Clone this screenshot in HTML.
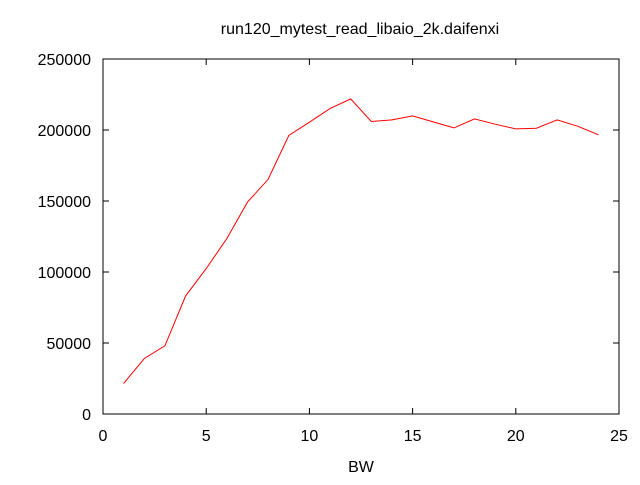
<!DOCTYPE html>
<html><head><meta charset="utf-8"><style>
body{margin:0;background:#fff;}
svg text{font-family:"Liberation Sans",sans-serif;font-size:16px;fill:#000;}
</style></head><body>
<svg id="chart" width="640" height="480" xmlns="http://www.w3.org/2000/svg">
<rect width="640" height="480" fill="#fff"/>
<text x="360" y="34" text-anchor="middle">run120_mytest_read_libaio_2k.daifenxi</text>
<text x="361" y="472" text-anchor="middle">BW</text>
<g id="axes"></g>
<rect x="103" y="59" width="516" height="355" fill="none" stroke="#000" stroke-width="1"/>
<path id="series" fill="none" stroke="#f00" stroke-width="1"/>
</svg>
<script>
const xValues = [1,2,3,4,5,6,7,8,9,10,11,12,13,14,15,16,17,18,19,20,21,22,23,24];
const yValues = [21500,39100,48000,83200,102400,123500,149200,165200,196100,205500,215100,221900,206000,207100,209900,205700,201500,207800,204100,200800,201300,207100,202700,196600];
const xTicks = [0,5,10,15,20,25];
const yTicks = [0,50000,100000,150000,200000,250000];
const X0=103,X1=619,Y0=414,Y1=59;
function sx(v){return X0+(v-0)/25*(X1-X0);}
function sy(v){return Y0-(v-0)/250000*(Y0-Y1);}
const NS="http://www.w3.org/2000/svg";
const axes=document.getElementById('axes');
function mk(tag,attrs){const e=document.createElementNS(NS,tag);for(const k in attrs)e.setAttribute(k,attrs[k]);axes.appendChild(e);return e;}
xTicks.forEach(t=>{
  const x=sx(t);
  const a=mk('line',{x1:x,y1:Y0,x2:x,y2:Y0-6,stroke:'#000'});
  
  
  const b=mk('line',{x1:x,y1:Y1,x2:x,y2:Y1+6,stroke:'#000'});
  
  
  const tx=mk('text',{x:x,y:441,'text-anchor':'middle'});
  tx.textContent=t;
  
  
});
yTicks.forEach(t=>{
  const y=sy(t);
  const a=mk('line',{x1:X0,y1:y,x2:X0+6,y2:y,stroke:'#000'});
  
  
  const b=mk('line',{x1:X1,y1:y,x2:X1-6,y2:y,stroke:'#000'});
  
  
  const tx=mk('text',{x:91,y:y+6,'text-anchor':'end'});
  tx.textContent=t;
  
  
});
document.getElementById('series').setAttribute('d',xValues.map((v,i)=>(i?'L':'M')+sx(v).toFixed(1)+','+sy(yValues[i]).toFixed(1)).join(' '));
</script>
</body></html>
